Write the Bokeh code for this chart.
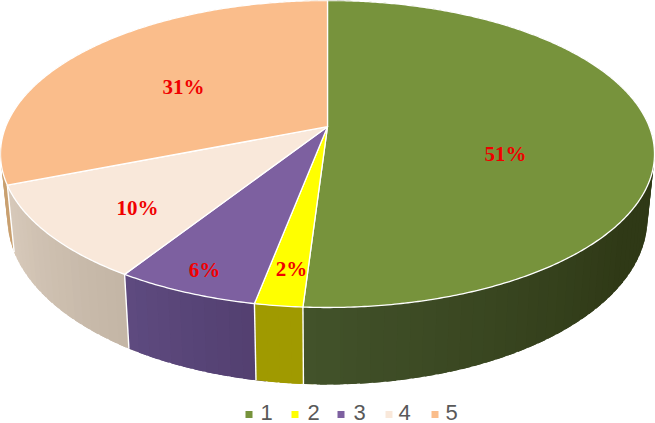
import numpy as np
from bokeh.plotting import figure
from bokeh.embed import file_html
from bokeh.resources import INLINE
from bokeh.core.properties import value

categories = ["1", "2", "3", "4", "5"]
shares = [51, 2, 6, 10, 31]

top_colors = ["#77933c", "#ffff00", "#7d60a0", "#f9e8da", "#fabd8b"]
side_from = ["#2f3916", "#a09a00", "#534070", "#c3b5a5", "#c9a070"]
side_to = ["#42522a", "#a09a00", "#5e4a80", "#d8cabb", "#c9a070"]
side_angle_start = [125, None, None, None, None]

# label anchor positions (page pixels)
label_x = [505, 291, 204, 137, 183]
label_y = [153, 268, 269, 207, 86]
legend_marker_x = [248.5, 294.5, 340.5, 388.5, 434.5]
legend_text_x = [260, 307, 353, 398, 445]

# projection of the tilted disc
TOP = dict(cx=327.0, cy=153.5, rx=327.0, ry=153.5)
BOTTOM = dict(cx=327.0, cy=218.0, rx=320.0, ry=166.0)
A = 0.178


def project(theta_deg, e):
    t = np.radians(theta_deg)
    u, v = np.sin(t), np.cos(t)
    d = 1 + A * v
    xn = u * np.sqrt(1 - A * A) / d
    yn = (v + A) / d
    return e["cx"] + e["rx"] * xn, e["cy"] - e["ry"] * yn


def mix(c1, c2, t):
    a = [int(c1[i:i + 2], 16) for i in (1, 3, 5)]
    b = [int(c2[i:i + 2], 16) for i in (1, 3, 5)]
    return "#%02x%02x%02x" % tuple(int(round(x + (y - x) * t)) for x, y in zip(a, b))


edges = np.concatenate([[0], np.cumsum(shares)]) * 360.0 / sum(shares)

p = figure(width=655, height=423, x_range=(0, 655), y_range=(423, 0),
           output_backend="svg", toolbar_location=None, min_border=0,
           x_axis_type=None, y_axis_type=None, outline_line_color=None,
           background_fill_color="white")
p.grid.visible = False
p.styles = {"position": "absolute", "left": "0px", "top": "0px"}

# side wall, as narrow strips painted back to front; each strip runs on under
# its front neighbour so no seam shows
strips = []
for i in range(len(shares)):
    a0, a1 = edges[i], edges[i + 1]
    n = max(2, int(np.ceil((a1 - a0) / 2.0)))
    steps = np.linspace(a0, a1, n + 1)
    vis0 = side_angle_start[i] if side_angle_start[i] is not None else a0
    for s0, s1 in zip(steps[:-1], steps[1:]):
        mid = (s0 + s1) / 2
        if mid < 180:
            s1 = s1 + 1.5
        else:
            s0 = s0 - 1.5
        tx0, ty0 = project(s0, TOP)
        tx1, ty1 = project(s1, TOP)
        bx0, by0 = project(s0, BOTTOM)
        bx1, by1 = project(s1, BOTTOM)
        t = np.clip((mid - vis0) / (a1 - vis0), 0, 1)
        strips.append((np.cos(np.radians(mid)),
                       [tx0, tx1, bx1, bx0], [ty0, ty1, by1, by0],
                       mix(side_from[i], side_to[i], t)))
strips.sort(key=lambda r: -r[0])
p.patches([r[1] for r in strips], [r[2] for r in strips],
          fill_color=[r[3] for r in strips], line_color=None)

# separators on the side wall
sep_x, sep_y = [], []
for a in edges[:-1]:
    tx, ty = project(a, TOP)
    bx, by = project(a, BOTTOM)
    sep_x.append([float(tx), float(bx)])
    sep_y.append([float(ty), float(by)])
p.multi_line(sep_x, sep_y, line_color="#ffffff", line_width=1.4)

# top face
ax_c, ay_c = TOP["cx"], TOP["cy"] - TOP["ry"] * A
xs, ys = [], []
for i in range(len(shares)):
    th = np.linspace(edges[i], edges[i + 1], max(4, int((edges[i + 1] - edges[i]) / 0.5)))
    ex, ey = project(th, TOP)
    xs.append([ax_c] + ex.tolist())
    ys.append([ay_c] + ey.tolist())
p.patches(xs, ys, fill_color=top_colors, line_color="#ffffff", line_width=1.3,
          line_join="round")

# data labels
p.text(label_x, label_y, text=[f"{v}%" for v in shares], text_color="#f00000",
       text_font=value("Liberation Serif"), text_font_style="bold",
       text_font_size="21px", text_align="center", text_baseline="middle")

# legend
p.scatter(legend_marker_x, [414] * len(categories), marker="square", size=7,
          fill_color=top_colors, line_color=None)
p.text(legend_text_x, [411.5] * len(categories), text=categories, text_color="#595959",
       text_font=value("Liberation Sans"), text_font_size="22px",
       text_align="left", text_baseline="middle")

open("out.html", "w").write(file_html(p, INLINE))
